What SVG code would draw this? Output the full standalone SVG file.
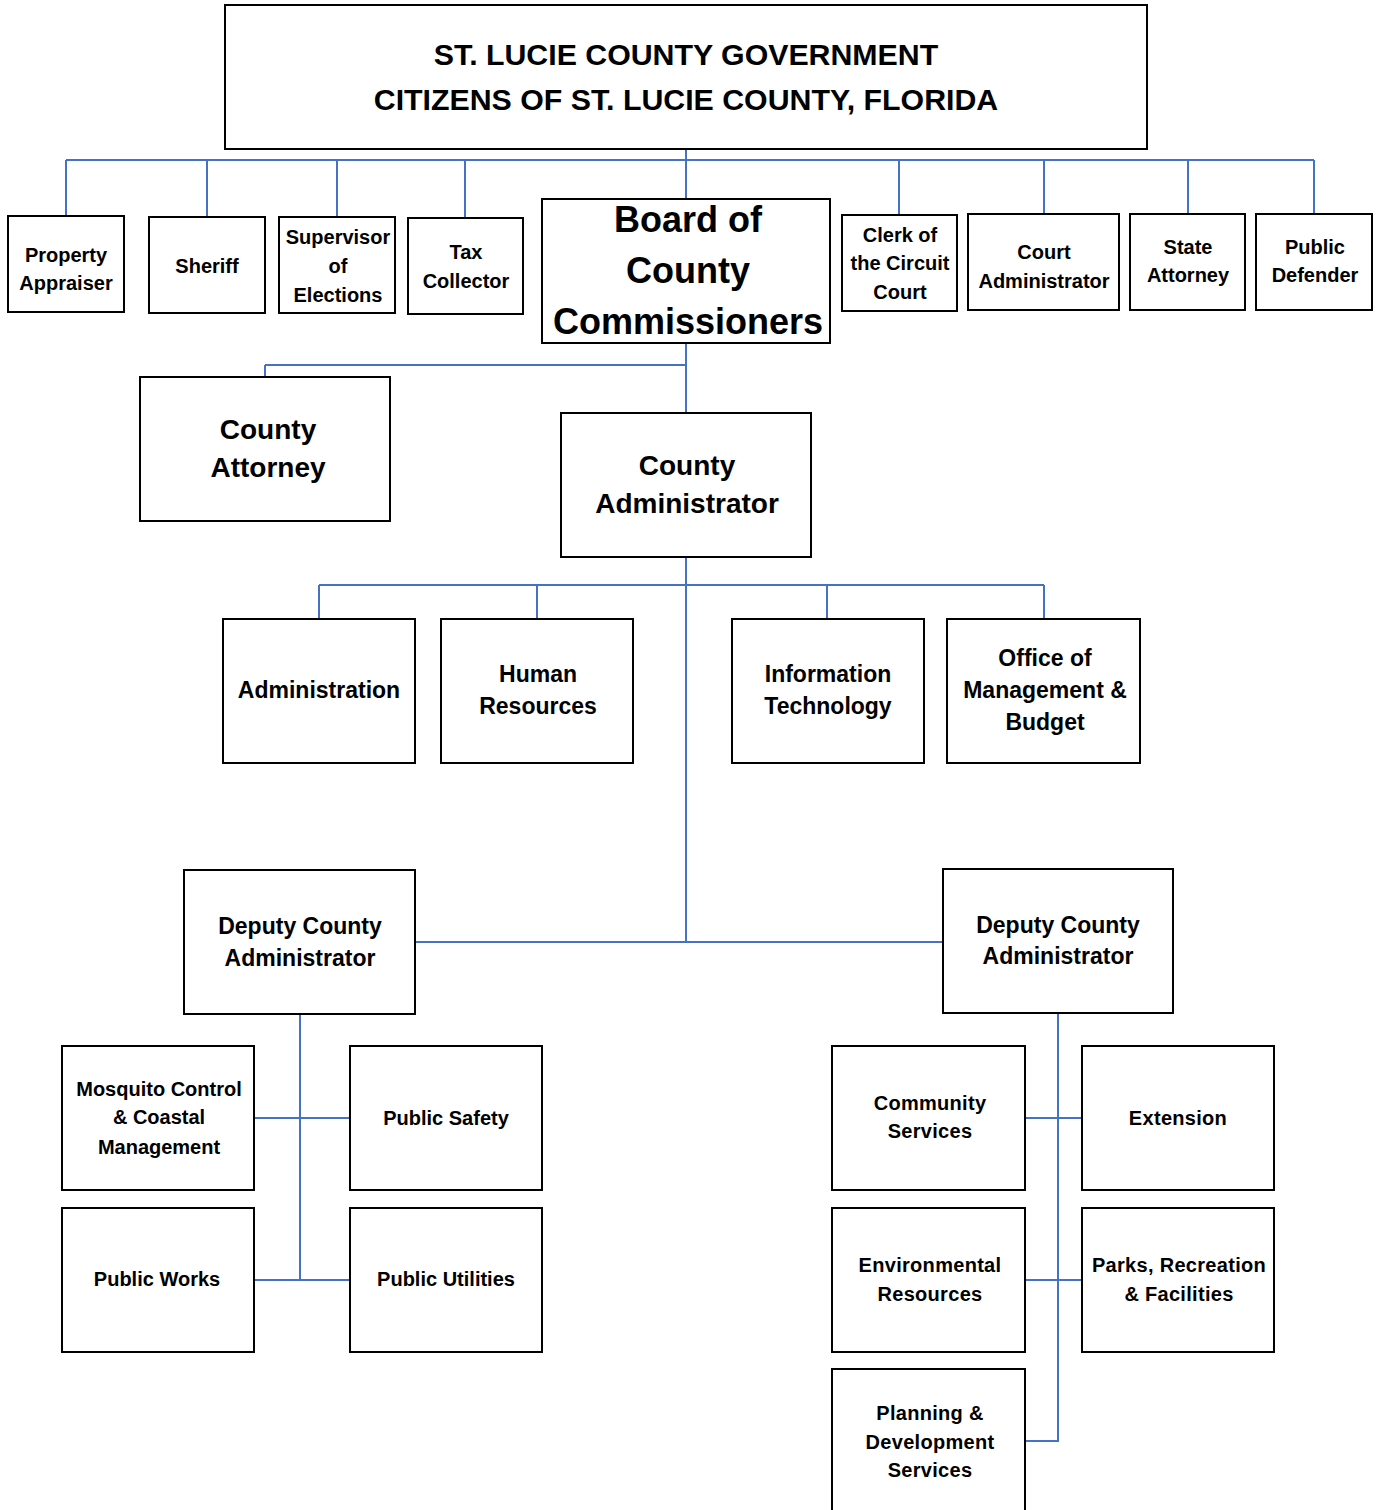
<svg xmlns="http://www.w3.org/2000/svg" width="1380" height="1510" viewBox="0 0 1380 1510">
<style>
.box{fill:#fff;stroke:#000;stroke-width:2}
.t{font-family:"Liberation Sans",Arial,sans-serif;font-weight:bold;fill:#000;text-anchor:middle}
.s20{font-size:20px}
.s23{font-size:23px}
.s28{font-size:28px}
.s36{font-size:36px}
.s30{font-size:30.3px}
.w{font-size:20px;letter-spacing:0.3px}
.c{fill:none;stroke:#4472C4;stroke-width:2}
</style>
<rect width="1380" height="1510" fill="#fff"/>
<g id="connectors">
<path class="c" d="M66,160H1314 M686,149V199 M66,160V216 M207,160V217 M337,160V217 M465,160V218 M899,160V215 M1044,160V214 M1188,160V214 M1314,160V214"/>
<path class="c" d="M686,343V413 M265,365H686 M265,365V377"/>
<path class="c" d="M686,557V942 M319,585H1044 M319,585V619 M537,585V619 M827,585V619 M1044,585V619"/>
<path class="c" d="M415,942H943"/>
<path class="c" d="M300,1014V1280 M254,1118H350 M254,1280H350"/>
<path class="c" d="M1058,1013V1441H1025 M1025,1118H1082 M1025,1280H1082"/>
</g>
<g id="top"><rect class="box" x="225" y="5" width="922" height="144"/>
<text class="t s30" x="686" y="65">ST. LUCIE COUNTY GOVERNMENT</text>
<text class="t s30" x="686" y="110">CITIZENS OF ST. LUCIE COUNTY, FLORIDA</text></g>
<g id="property-appraiser"><rect class="box" x="8" y="216" width="116" height="96"/>
<text class="t s20" x="66" y="262">Property</text><text class="t s20" x="66" y="290">Appraiser</text></g>
<g id="sheriff"><rect class="box" x="149" y="217" width="116" height="96"/>
<text class="t s20" x="207" y="273">Sheriff</text></g>
<g id="supervisor"><rect class="box" x="279" y="217" width="116" height="96"/>
<text class="t s20" x="338" y="244">Supervisor</text><text class="t s20" x="338" y="273">of</text><text class="t s20" x="338" y="302">Elections</text></g>
<g id="tax-collector"><rect class="box" x="408" y="218" width="115" height="96"/>
<text class="t s20" x="466" y="259">Tax</text><text class="t s20" x="466" y="288">Collector</text></g>
<g id="board"><rect class="box" x="542" y="199" width="288" height="144"/>
<text class="t s36" x="688" y="232">Board of</text><text class="t s36" x="688" y="283">County</text><text class="t s36" x="688" y="334">Commissioners</text></g>
<g id="clerk"><rect class="box" x="842" y="215" width="115" height="96"/>
<text class="t s20" x="900" y="242">Clerk of</text><text class="t s20" x="900" y="270">the Circuit</text><text class="t s20" x="900" y="299">Court</text></g>
<g id="court-admin"><rect class="box" x="968" y="214" width="151" height="96"/>
<text class="t s20" x="1044" y="259">Court</text><text class="t s20" x="1044" y="288">Administrator</text></g>
<g id="state-attorney"><rect class="box" x="1130" y="214" width="115" height="96"/>
<text class="t s20" x="1188" y="254">State</text><text class="t s20" x="1188" y="282">Attorney</text></g>
<g id="public-defender"><rect class="box" x="1256" y="214" width="116" height="96"/>
<text class="t s20" x="1315" y="254">Public</text><text class="t s20" x="1315" y="282">Defender</text></g>
<g id="county-attorney"><rect class="box" x="140" y="377" width="250" height="144"/>
<text class="t s28" x="268" y="439">County</text><text class="t s28" x="268" y="477">Attorney</text></g>
<g id="county-administrator"><rect class="box" x="561" y="413" width="250" height="144"/>
<text class="t s28" x="687" y="475">County</text><text class="t s28" x="687" y="513">Administrator</text></g>
<g id="administration"><rect class="box" x="223" y="619" width="192" height="144"/>
<text class="t s23" x="319" y="698">Administration</text></g>
<g id="human-resources"><rect class="box" x="441" y="619" width="192" height="144"/>
<text class="t s23" x="538" y="682">Human</text><text class="t s23" x="538" y="714">Resources</text></g>
<g id="information-technology"><rect class="box" x="732" y="619" width="192" height="144"/>
<text class="t s23" x="828" y="682">Information</text><text class="t s23" x="828" y="714">Technology</text></g>
<g id="omb"><rect class="box" x="947" y="619" width="193" height="144"/>
<text class="t s23" x="1045" y="666">Office of</text><text class="t s23" x="1045" y="698">Management &amp;</text><text class="t s23" x="1045" y="730">Budget</text></g>
<g id="deputy-left"><rect class="box" x="184" y="870" width="231" height="144"/>
<text class="t s23" x="300" y="934">Deputy County</text><text class="t s23" x="300" y="966">Administrator</text></g>
<g id="deputy-right"><rect class="box" x="943" y="869" width="230" height="144"/>
<text class="t s23" x="1058" y="933">Deputy County</text><text class="t s23" x="1058" y="964">Administrator</text></g>
<g id="mosquito"><rect class="box" x="62" y="1046" width="192" height="144"/>
<text class="t s20" x="159" y="1096">Mosquito Control</text><text class="t s20" x="159" y="1124">&amp; Coastal</text><text class="t s20" x="159" y="1154">Management</text></g>
<g id="public-safety"><rect class="box" x="350" y="1046" width="192" height="144"/>
<text class="t s20" x="446" y="1125">Public Safety</text></g>
<g id="public-works"><rect class="box" x="62" y="1208" width="192" height="144"/>
<text class="t s20" x="157" y="1286">Public Works</text></g>
<g id="public-utilities"><rect class="box" x="350" y="1208" width="192" height="144"/>
<text class="t s20" x="446" y="1286">Public Utilities</text></g>
<g id="community-services"><rect class="box" x="832" y="1046" width="193" height="144"/>
<text class="t w" x="930" y="1110">Community</text><text class="t w" x="930" y="1138">Services</text></g>
<g id="extension"><rect class="box" x="1082" y="1046" width="192" height="144"/>
<text class="t w" x="1178" y="1125">Extension</text></g>
<g id="environmental"><rect class="box" x="832" y="1208" width="193" height="144"/>
<text class="t w" x="930" y="1272">Environmental</text><text class="t w" x="930" y="1301">Resources</text></g>
<g id="parks"><rect class="box" x="1082" y="1208" width="192" height="144"/>
<text class="t w" x="1179" y="1272">Parks, Recreation</text><text class="t w" x="1179" y="1301">&amp; Facilities</text></g>
<g id="planning"><rect class="box" x="832" y="1369" width="193" height="146"/>
<text class="t w" x="930" y="1420">Planning &amp;</text><text class="t w" x="930" y="1449">Development</text><text class="t w" x="930" y="1477">Services</text></g>
</svg>
